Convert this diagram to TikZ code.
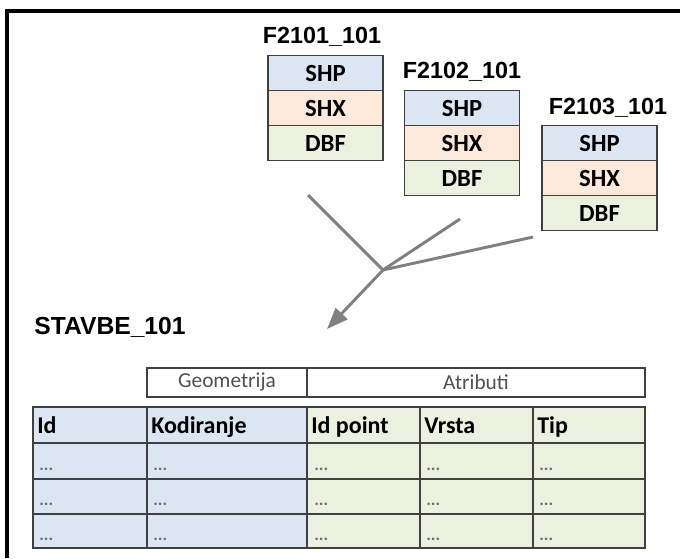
\documentclass[tikz,border=0pt]{standalone}
\usepackage{fontspec}
\setmainfont{Carlito}
\newfontfamily\arialfont{Liberation Sans}
\usepackage{tikz}
\usetikzlibrary{arrows.meta,positioning}
\definecolor{shpblue}{RGB}{220,230,242}
\definecolor{shxpeach}{RGB}{253,233,217}
\definecolor{dbfgreen}{RGB}{235,241,222}
\definecolor{boxline}{RGB}{64,64,64}
\definecolor{feedgray}{RGB}{128,128,128}
\definecolor{labgray}{RGB}{80,80,80}
\definecolor{dotgray}{RGB}{110,110,110}
\tikzset{
  part/.style={draw=boxline,line width=1.2pt,minimum width=86.25pt,minimum height=26.25pt,
    inner sep=0pt,outer sep=0pt,font=\bfseries\fontsize{18.5}{18.5}\selectfont},
  fname/.style={font=\arialfont\bfseries\fontsize{17.5}{17.5}\selectfont,inner sep=0pt},
  feed/.style={draw=feedgray,line width=2.2pt},
  grid/.style={draw=boxline,line width=1.2pt},
  colhead/.style={anchor=base west,inner sep=0pt,font=\bfseries\fontsize{18}{18}\selectfont},
  dots/.style={anchor=base west,inner sep=0pt,text=dotgray,font=\bfseries\fontsize{13}{13}\selectfont},
}
\begin{document}
\begin{tikzpicture}[x=0.75pt,y=-0.75pt]
      \useasboundingbox (0,0) rectangle (680,558);
      \draw[line width=2.5pt] (7,558)--(7,11)--(680,11);
      % three source files
      \node [fname] (lab1) at (322,37) {F2101\_101};
      \node [part,fill=shpblue] (a1) at (325.5,73) {SHP};
      \node [part,fill=shxpeach,below=0pt of a1] (a2) {SHX};
      \node [part,fill=dbfgreen,below=0pt of a2] (a3) {DBF};
      \node [fname] (lab2) at (462,72) {F2102\_101};
      \node [part,fill=shpblue] (b1) at (462,108) {SHP};
      \node [part,fill=shxpeach,below=0pt of b1] (b2) {SHX};
      \node [part,fill=dbfgreen,below=0pt of b2] (b3) {DBF};
      \node [fname] (lab3) at (608,108) {F2103\_101};
      \node [part,fill=shpblue] (c1) at (599.5,143) {SHP};
      \node [part,fill=shxpeach,below=0pt of c1] (c2) {SHX};
      \node [part,fill=dbfgreen,below=0pt of c2] (c3) {DBF};
      % merge arrow
      \coordinate (s1) at (308,195);
      \coordinate (s2) at (460,219);
      \coordinate (s3) at (533,237);
      \coordinate (j) at (383,270);
      \coordinate (tip) at (327,329);
      \draw[feed] (s1)--(j);
      \draw[feed] (s2)--(j);
      \draw[feed] (s3)--(j);
      \draw[feed,-{Triangle[length=16pt,width=12pt]}] (j)--(tip);
      \node [fname,font=\arialfont\bfseries\fontsize{18.5}{18.5}\selectfont] (res) at (110,327) {STAVBE\_101};
      % group bar
      \draw[grid] (147,368) rectangle (645,397);
      \draw[grid] (307,368)--(307,397);
      \node [text=labgray,font=\fontsize{16}{16}\selectfont] (geo) at (227,382) {Geometrija};
      \node [text=labgray,font=\fontsize{16}{16}\selectfont] (att) at (476,382) {Atributi};
      % table
      \fill[shpblue] (33,407) rectangle (307,548);
      \fill[dbfgreen] (307,407) rectangle (645,548);
      \draw[grid] (33,407) rectangle (645,548);
      \draw[grid] (147,407)--(147,548);
      \draw[grid] (307,407)--(307,548);
      \draw[grid] (420,407)--(420,548);
      \draw[grid] (533,407)--(533,548);
      \draw[grid] (33,443)--(645,443);
      \draw[grid] (33,479)--(645,479);
      \draw[grid] (33,514)--(645,514);
      \node [colhead] (hid) at (37,433) {Id};
      \node [colhead] (hkod) at (151,433) {Kodiranje};
      \node [colhead] (hpt) at (311,433) {Id point};
      \node [colhead] (hvr) at (424,433) {Vrsta};
      \node [colhead] (htip) at (537,433) {Tip};
      \foreach \r in {470,505,540}
        \foreach \c in {39,153,314,426,539}
          \node [dots] (d-\c-\r) at (\c,\r) {...};
\end{tikzpicture}
\end{document}
